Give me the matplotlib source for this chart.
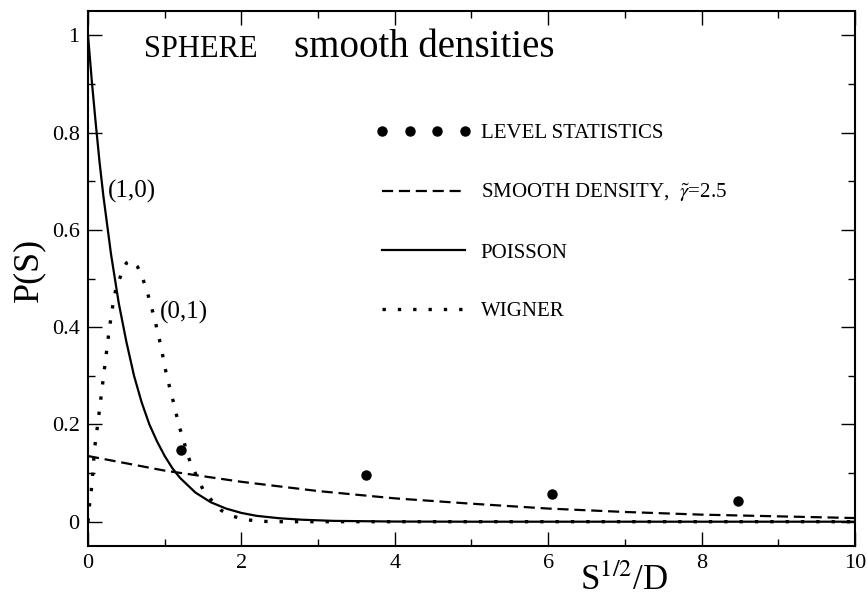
import matplotlib
matplotlib.use("Agg")
import matplotlib.pyplot as plt
from matplotlib.ticker import MultipleLocator, FormatStrFormatter

plt.rcParams['font.family'] = ['Liberation Serif', 'DejaVu Serif']
plt.rcParams['mathtext.fontset'] = 'stix'

# level statistics (big dots)
level_x = [1.21, 3.62, 6.05, 8.47]
level_y = [0.148, 0.095, 0.057, 0.042]

# smooth density, gamma~=2.5 (dashed)
smooth_x = [0, 1, 2, 3, 4, 5, 6, 7, 8, 9, 10]
smooth_y = [0.135, 0.105, 0.082, 0.063, 0.048, 0.037, 0.027, 0.020, 0.0145, 0.011, 0.0075]

# poisson (solid)
poisson_x = [0, 0.05, 0.1, 0.15, 0.2, 0.3, 0.4, 0.5, 0.6, 0.7, 0.8, 0.9, 1.0, 1.1,
             1.2, 1.3, 1.4, 1.6, 1.8, 2.0, 2.2, 2.5, 2.8, 3.2, 4, 5, 7, 10]
poisson_y = [1.0, 0.905, 0.82, 0.74, 0.67, 0.55, 0.45, 0.37, 0.30, 0.245, 0.20, 0.165,
             0.135, 0.11, 0.09, 0.075, 0.06, 0.04, 0.027, 0.018, 0.012, 0.007, 0.004,
             0.0017, 0.0003, 0, 0, 0]

# wigner (dotted)
wigner_x = [0, 0.017, 0.04, 0.056, 0.085, 0.11, 0.148, 0.19, 0.235, 0.278, 0.33, 0.365,
            0.43, 0.50, 0.57, 0.647, 0.713, 0.774, 0.817, 0.874, 0.904, 0.952, 0.982,
            1.017, 1.06, 1.104, 1.147, 1.186, 1.243, 1.287, 1.35, 1.425, 1.5, 1.61,
            1.74, 1.89, 2.07, 2.24, 2.42, 3, 5, 10]
wigner_y = [0, 0.031, 0.059, 0.088, 0.15, 0.18, 0.228, 0.283, 0.341, 0.397, 0.452, 0.48,
            0.507, 0.532, 0.537, 0.524, 0.5, 0.472, 0.445, 0.417, 0.389, 0.362, 0.334,
            0.307, 0.279, 0.252, 0.224, 0.197, 0.17, 0.142, 0.116, 0.091, 0.066, 0.044,
            0.023, 0.011, 0.004, 0.001, 0, 0, 0, 0]

fig = plt.figure(figsize=(8.68, 6.02), dpi=100)
ax = fig.add_axes([0.1014, 0.093, 0.8836, 0.8887])

lev, = ax.plot(level_x, level_y, 'o', color='black', markersize=6.5, zorder=5,
               label='LEVEL STATISTICS')
smo, = ax.plot(smooth_x, smooth_y, color='black', lw=1.6, linestyle=(0, (5.0, 2.6)),
               label=r'SMOOTH DENSITY,  $\tilde{\gamma}$=2.5')
poi, = ax.plot(poisson_x, poisson_y, color='black', lw=1.6, label='POISSON')
wig, = ax.plot(wigner_x, wigner_y, color='black', lw=2.4, linestyle=(0, (1, 3.6)),
               dash_capstyle='butt', label='WIGNER')

ax.set_xlim(0, 10)
ax.set_ylim(-0.05, 1.05)
ax.xaxis.set_major_locator(MultipleLocator(2))
ax.xaxis.set_minor_locator(MultipleLocator(1))
ax.yaxis.set_major_locator(MultipleLocator(0.2))
ax.yaxis.set_minor_locator(MultipleLocator(0.1))
ax.yaxis.set_major_formatter(FormatStrFormatter('%g'))
ax.tick_params(which='both', direction='in', top=True, right=True, labelsize=16, width=1)
ax.tick_params(which='major', length=10, pad=6)
ax.tick_params(which='minor', length=5)
for s in ax.spines.values():
    s.set_linewidth(1.5)

ax.set_xlabel(r'S$^{1/2}$/D', fontsize=25)
ax.xaxis.set_label_coords(0.699, -0.034)
ax.set_ylabel('P(S)', fontsize=26)
ax.yaxis.set_label_coords(-0.056, 0.516)

ax.text(0.073, 0.914, 'SPHERE', transform=ax.transAxes, fontsize=22, va='baseline')
ax.text(0.2686, 0.914, 'smooth densities', transform=ax.transAxes, fontsize=28,
        va='baseline')
ax.text(0.257, 0.68, '(1,0)', fontsize=18, va='center')
ax.text(0.939, 0.431, '(0,1)', fontsize=18, va='center')

ax.legend(handles=[lev, smo, poi, wig], loc='upper left', bbox_to_anchor=(0.375, 0.789),
          frameon=False, fontsize=15, numpoints=4, handlelength=4.6,
          handletextpad=0.45, labelspacing=1.86, borderpad=0, borderaxespad=0)

fig.savefig('out.png', dpi=100, facecolor='white')
